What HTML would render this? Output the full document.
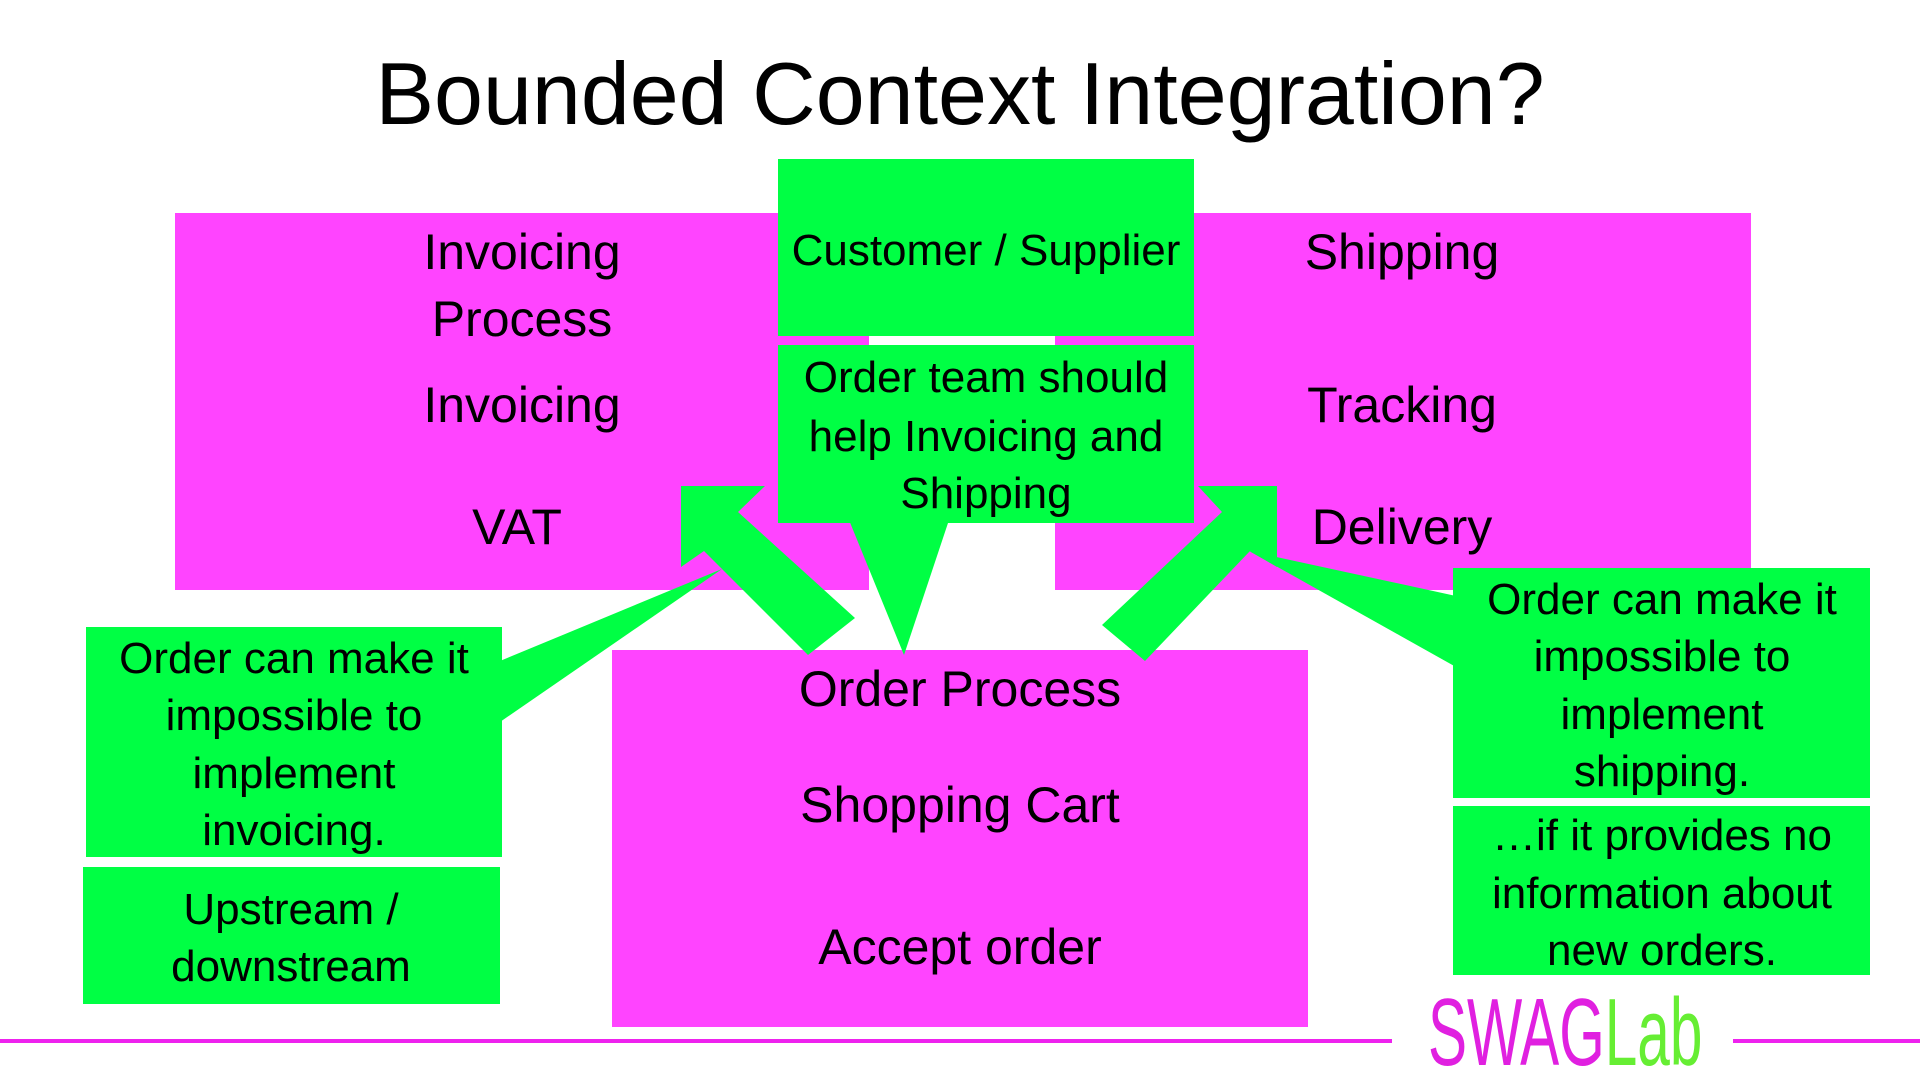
<!DOCTYPE html>
<html><head><meta charset="utf-8"><style>
html,body{margin:0;padding:0;background:#fff;}
svg text{font-family:"Liberation Sans",sans-serif;fill:#000;}
</style></head><body>
<svg width="1920" height="1080" viewBox="0 0 1920 1080" xmlns="http://www.w3.org/2000/svg">
<rect width="1920" height="1080" fill="#fff"/>
<text x="960" y="124" font-size="88" text-anchor="middle">Bounded Context Integration?</text>
<!-- magenta boxes -->
<rect x="175" y="213" width="694" height="377" fill="#ff44ff"/>
<rect x="1055" y="213" width="696" height="377" fill="#ff44ff"/>
<rect x="612" y="650" width="696" height="377" fill="#ff44ff"/>
<!-- green boxes -->
<rect x="778" y="159" width="416" height="177" fill="#00ff44"/>
<rect x="778" y="345" width="416" height="178" fill="#00ff44"/>
<polygon points="849,520 949,520 904,655" fill="#00ff44"/>
<!-- left arrow -->
<polygon points="681,486 765,486 738,512 855,618 808,655 704,551 681,567" fill="#00ff44"/>
<!-- right arrow -->
<polygon points="1277,486 1198,486 1222,512 1102,625 1145,661 1250,551 1277,567" fill="#00ff44"/>
<!-- left callout -->
<rect x="86" y="627" width="416" height="230" fill="#00ff44"/>
<polygon points="500,661 500,722 722,569" fill="#00ff44"/>
<rect x="83" y="867" width="417" height="137" fill="#00ff44"/>
<!-- right callout -->
<rect x="1453" y="568" width="417" height="230" fill="#00ff44"/>
<polygon points="1456,596 1456,667 1249,551" fill="#00ff44"/>
<rect x="1453" y="806" width="417" height="169" fill="#00ff44"/>
<g font-size="50" text-anchor="middle">
<text x="522" y="269">Invoicing</text>
<text x="522" y="336">Process</text>
<text x="522" y="422">Invoicing</text>
<text x="517" y="544">VAT</text>
<text x="1402" y="269">Shipping</text>
<text x="1402" y="422">Tracking</text>
<text x="1402" y="544">Delivery</text>
<text x="960" y="706">Order Process</text>
<text x="960" y="822">Shopping Cart</text>
<text x="960" y="964">Accept order</text>
</g>
<g font-size="44" text-anchor="middle">
<text x="986" y="265">Customer / Supplier</text>
<text x="986" y="392">Order team should</text>
<text x="986" y="451">help Invoicing and</text>
<text x="986" y="508">Shipping</text>
<text x="294" y="673">Order can make it</text>
<text x="294" y="730">impossible to</text>
<text x="294" y="788">implement</text>
<text x="294" y="845">invoicing.</text>
<text x="291" y="924">Upstream /</text>
<text x="291" y="981">downstream</text>
<text x="1662" y="614">Order can make it</text>
<text x="1662" y="671">impossible to</text>
<text x="1662" y="729">implement</text>
<text x="1662" y="786">shipping.</text>
<text x="1662" y="850">…if it provides no</text>
<text x="1662" y="908">information about</text>
<text x="1662" y="965">new orders.</text>
</g>
<!-- footer -->
<rect x="0" y="1039" width="1392" height="4" fill="#ee22ee"/>
<rect x="1733" y="1039" width="187" height="4" fill="#ee22ee"/>
<g transform="translate(1428,1065) scale(0.61,1)">
<text x="0" y="0" font-size="96" style="fill:#e020e0">SWAG<tspan style="fill:#66ee33">Lab</tspan></text>
</g>
</svg>
</body></html>
